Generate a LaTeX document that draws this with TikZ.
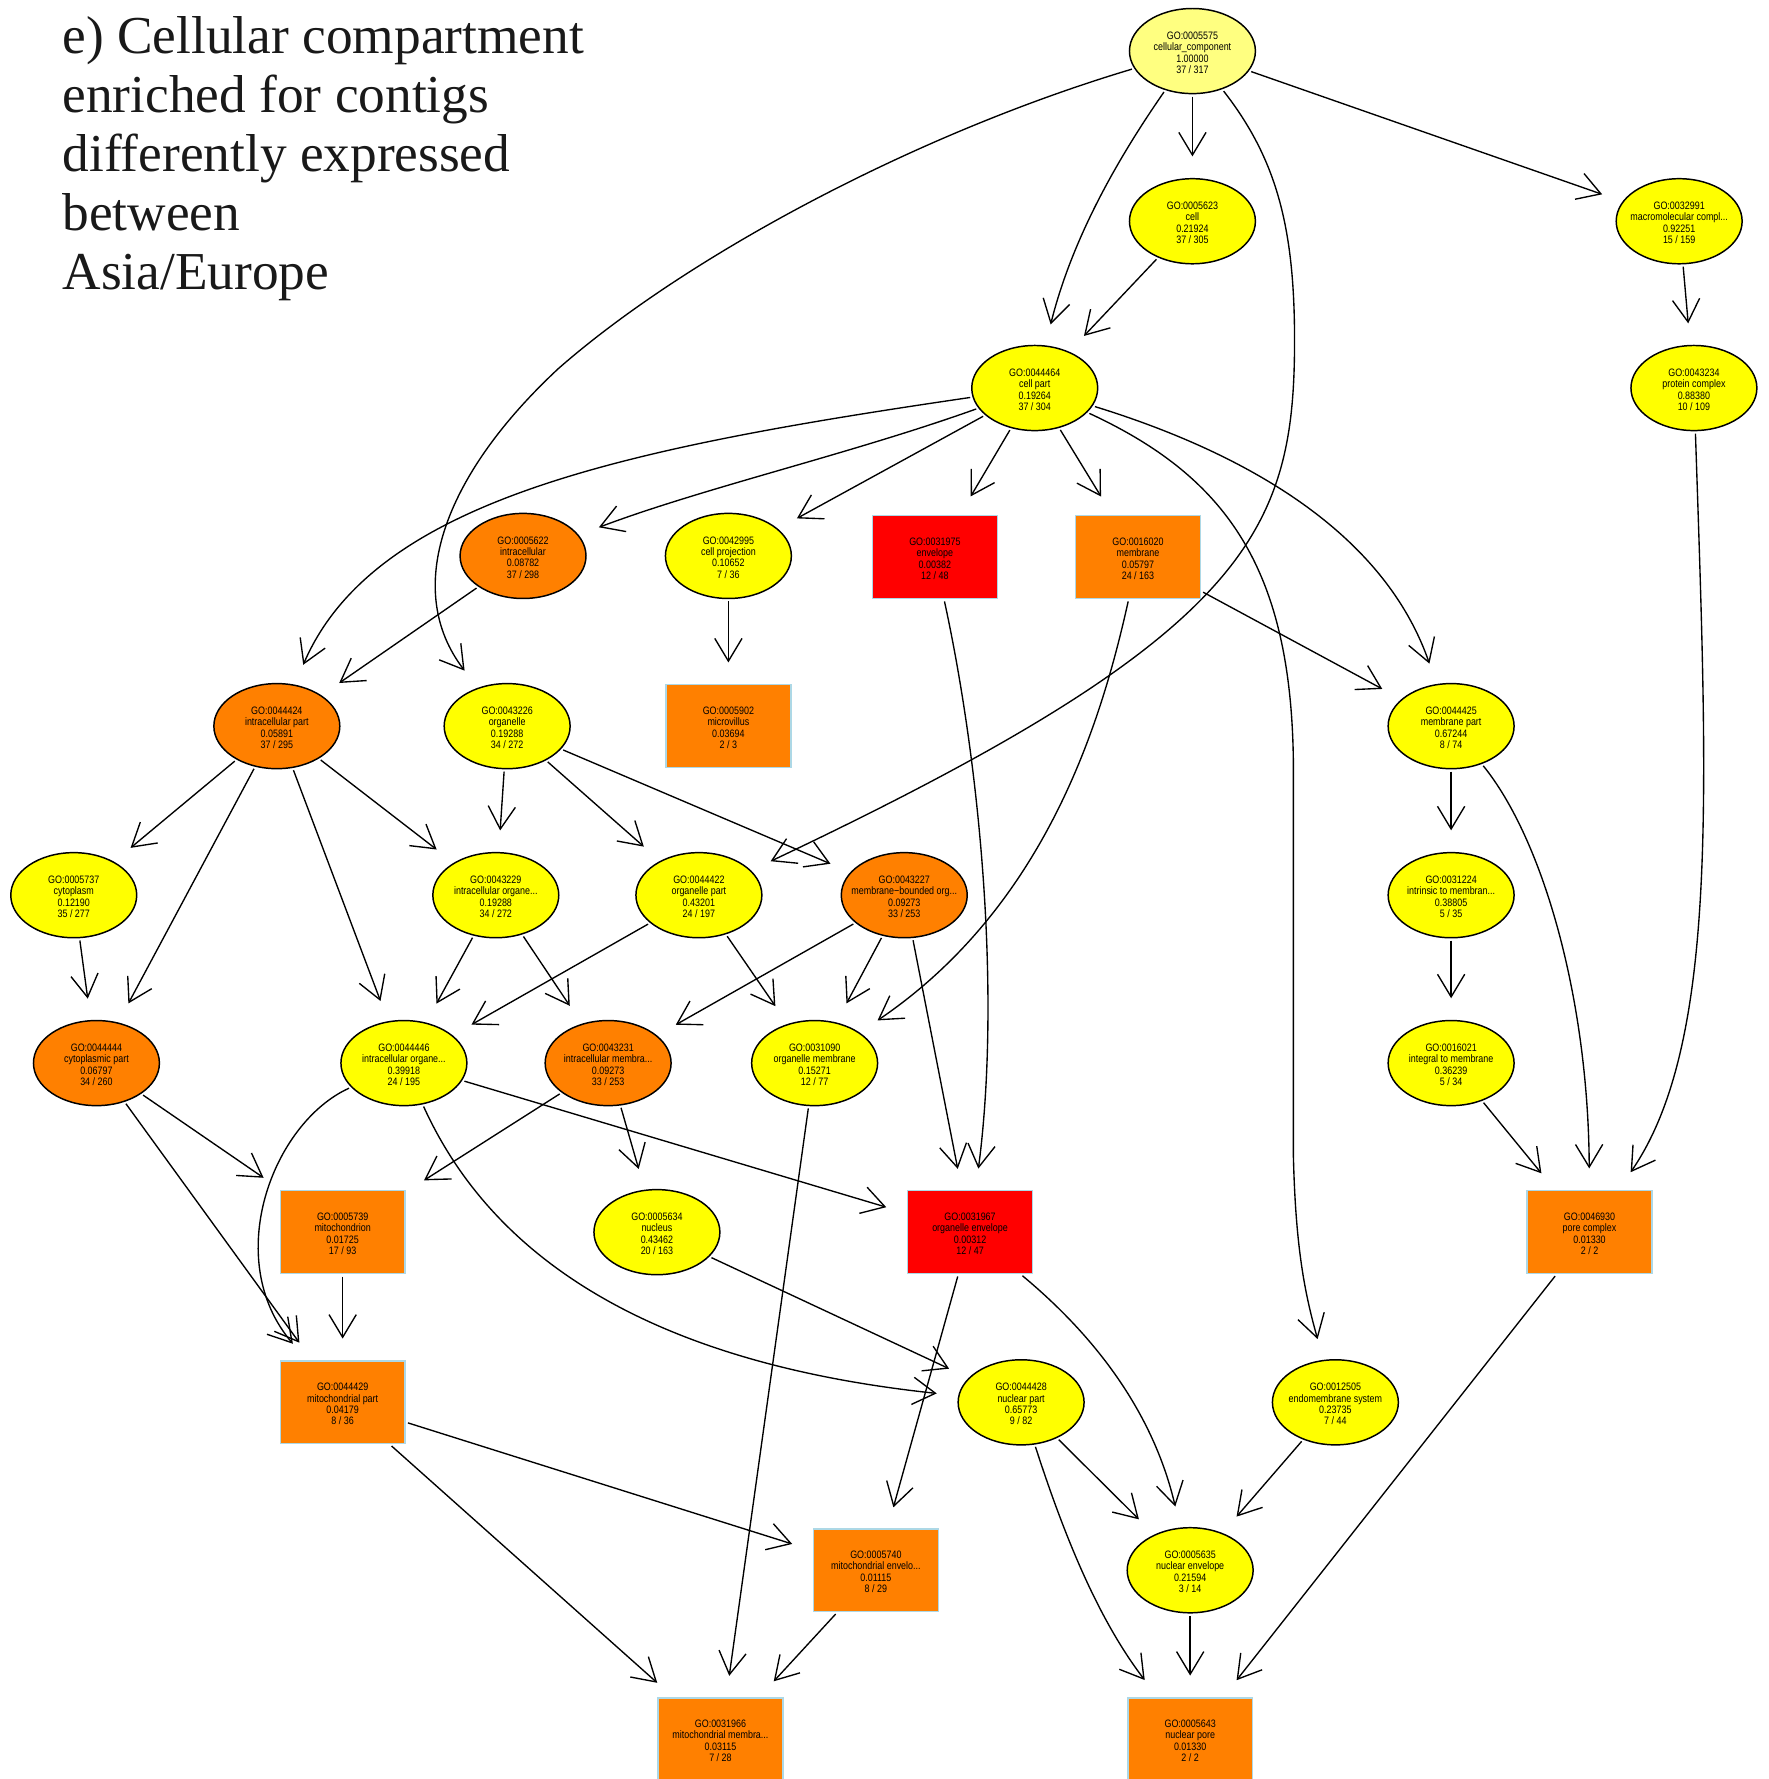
\documentclass[tikz,border=0pt]{standalone}
\usepackage{fontspec}
\usetikzlibrary{shapes.geometric,arrows.meta}
\newfontfamily\nodefnt[FakeStretch=0.83]{Liberation Sans}
\newfontfamily\titlefnt{Liberation Serif}
\definecolor{rootyel}{HTML}{FFFF80}
\definecolor{yel}{HTML}{FFFF00}
\definecolor{org}{HTML}{FF8000}
\definecolor{rd}{HTML}{FF0000}
\definecolor{boxblue}{HTML}{ADD8E6}
\tikzset{
  gobase/.style={inner sep=0pt, align=center, font=\nodefnt\fontsize{9.5}{10}\selectfont},
  goell/.style={gobase, ellipse, inner xsep=-20pt, inner ysep=-8pt, draw=black, line width=1.3pt, minimum width=111pt, minimum height=75pt},
  gobox/.style={gobase, rectangle, draw=boxblue, line width=1.3pt, minimum width=110pt, minimum height=73pt},
  edge/.style={line width=1.2pt, -{Straight Barb[length=20pt,width=24pt]}, shorten >=19pt, shorten <=2pt},
  titleline/.style={anchor=base west, inner sep=0pt, font=\titlefnt\fontsize{47}{52}\selectfont, text=black!90}
}
\newcommand{\golab}[4]{\rule{0pt}{9.5pt}#1\\#2\\#3\\#4}
\begin{document}
\begin{tikzpicture}[x=1pt,y=-1pt]
\useasboundingbox (0,0) rectangle (1559,1568);
\fill[white] (0,0) rectangle (1559,1568);

% title
\node[titleline] (t1) at (55,47) {e) Cellular compartment};
\node[titleline] (t2) at (55,99) {enriched for contigs};
\node[titleline] (t3) at (55,151) {differently expressed};
\node[titleline] (t4) at (55,203) {between};
\node[titleline] (t5) at (55,255) {Asia/Europe};

% nodes
\node[goell, fill=rootyel] (n1) at (1051,45) {\golab{GO:0005575}{cellular\_component}{1.00000}{37 / 317}};
\node[goell, fill=yel] (n2) at (1051,195) {\golab{GO:0005623}{cell}{0.21924}{37 / 305}};
\node[goell, fill=yel] (n3) at (1480,195) {\golab{GO:0032991}{macromolecular compl...}{0.92251}{15 / 159}};
\node[goell, fill=yel] (n4) at (912,342) {\golab{GO:0044464}{cell part}{0.19264}{37 / 304}};
\node[goell, fill=yel] (n5) at (1493,342) {\golab{GO:0043234}{protein complex}{0.88380}{10 / 109}};
\node[goell, fill=org] (n6) at (461,490) {\golab{GO:0005622}{intracellular}{0.08782}{37 / 298}};
\node[goell, fill=yel] (n7) at (642,490) {\golab{GO:0042995}{cell projection}{0.10652}{7 / 36}};
\node[gobox, fill=rd] (n8) at (824,491) {\golab{GO:0031975}{envelope}{0.00382}{12 / 48}};
\node[gobox, fill=org] (n9) at (1003,491) {\golab{GO:0016020}{membrane}{0.05797}{24 / 163}};
\node[gobox, fill=org] (n10) at (642,640) {\golab{GO:0005902}{microvillus}{0.03694}{2 / 3}};
\node[goell, fill=org] (n11) at (244,640) {\golab{GO:0044424}{intracellular part}{0.05891}{37 / 295}};
\node[goell, fill=yel] (n12) at (447,640) {\golab{GO:0043226}{organelle}{0.19288}{34 / 272}};
\node[goell, fill=yel] (n13) at (1279,640) {\golab{GO:0044425}{membrane part}{0.67244}{8 / 74}};
\node[goell, fill=yel] (n14) at (65,789) {\golab{GO:0005737}{cytoplasm}{0.12190}{35 / 277}};
\node[goell, fill=yel] (n15) at (437,789) {\golab{GO:0043229}{intracellular organe...}{0.19288}{34 / 272}};
\node[goell, fill=yel] (n16) at (616,789) {\golab{GO:0044422}{organelle part}{0.43201}{24 / 197}};
\node[goell, fill=org] (n17) at (797,789) {\golab{GO:0043227}{membrane−bounded org...}{0.09273}{33 / 253}};
\node[goell, fill=yel] (n18) at (1279,789) {\golab{GO:0031224}{intrinsic to membran...}{0.38805}{5 / 35}};
\node[goell, fill=org] (n19) at (85,937) {\golab{GO:0044444}{cytoplasmic part}{0.06797}{34 / 260}};
\node[goell, fill=yel] (n20) at (356,937) {\golab{GO:0044446}{intracellular organe...}{0.39918}{24 / 195}};
\node[goell, fill=org] (n21) at (536,937) {\golab{GO:0043231}{intracellular membra...}{0.09273}{33 / 253}};
\node[goell, fill=yel] (n22) at (718,937) {\golab{GO:0031090}{organelle membrane}{0.15271}{12 / 77}};
\node[goell, fill=yel] (n23) at (1279,937) {\golab{GO:0016021}{integral to membrane}{0.36239}{5 / 34}};
\node[gobox, fill=org] (n24) at (302,1086) {\golab{GO:0005739}{mitochondrion}{0.01725}{17 / 93}};
\node[goell, fill=yel] (n25) at (579,1086) {\golab{GO:0005634}{nucleus}{0.43462}{20 / 163}};
\node[gobox, fill=rd] (n26) at (855,1086) {\golab{GO:0031967}{organelle envelope}{0.00312}{12 / 47}};
\node[gobox, fill=org] (n27) at (1401,1086) {\golab{GO:0046930}{pore complex}{0.01330}{2 / 2}};
\node[gobox, fill=org] (n28) at (302,1236) {\golab{GO:0044429}{mitochondrial part}{0.04179}{8 / 36}};
\node[goell, fill=yel] (n29) at (900,1236) {\golab{GO:0044428}{nuclear part}{0.65773}{9 / 82}};
\node[goell, fill=yel] (n30) at (1177,1236) {\golab{GO:0012505}{endomembrane system}{0.23735}{7 / 44}};
\node[gobox, fill=org] (n31) at (772,1384) {\golab{GO:0005740}{mitochondrial envelo...}{0.01115}{8 / 29}};
\node[goell, fill=yel] (n32) at (1049,1384) {\golab{GO:0005635}{nuclear envelope}{0.21594}{3 / 14}};
\node[gobox, fill=org] (n33) at (635,1533) {\golab{GO:0031966}{mitochondrial membra...}{0.03115}{7 / 28}};
\node[gobox, fill=org] (n34) at (1049,1533) {\golab{GO:0005643}{nuclear pore}{0.01330}{2 / 2}};

% straight edges
\foreach \a/\b in {1/2,1/3,2/4,3/5,4/7,4/8,4/9,6/11,7/10,9/13,11/14,11/19,11/20,11/15,
  12/15,12/16,12/17,13/18,14/19,15/20,15/21,16/20,16/22,17/21,17/22,17/26,18/23,
  19/24,19/28,20/26,21/24,21/25,22/33,23/27,24/28,25/29,26/31,27/34,28/31,28/33,
  29/32,30/32,31/33,32/34}
  \draw[edge] (n\a) -- (n\b);

% curved edges
\draw[edge] (n1) .. controls (985,140) and (945,210) .. (n4);
\draw[edge] (n1) .. controls (800,120) and (600,230) .. (492,325)
                 .. controls (390,420) and (355,520) .. (n12);
\draw[edge] (n1) .. controls (1125,140) and (1141,200) .. (1141,300)
                 .. controls (1141,470) and (1100,560) .. (n16);
\draw[edge] (n4) .. controls (750,400) and (620,430) .. (n6);
\draw[edge] (n4) .. controls (550,395) and (330,440) .. (n11);
\draw[edge] (n4) .. controls (1100,400) and (1220,470) .. (n13);
\draw[edge] (n4) .. controls (1080,420) and (1140,500) .. (1140,680) -- (1140,1020)
                 .. controls (1142,1100) and (1150,1140) .. (n30);
\draw[edge] (n5) .. controls (1505,700) and (1515,920) .. (n27);
\draw[edge] (n8) .. controls (865,680) and (882,880) .. (n26);
\draw[edge] (n9) .. controls (970,640) and (920,800) .. (n22);
\draw[edge] (n13) .. controls (1360,740) and (1400,880) .. (n27);
\draw[edge] (n20) .. controls (240,990) and (195,1110) .. (n28);
\draw[edge] (n20) .. controls (430,1100) and (560,1200) .. (n29);
\draw[edge] (n26) .. controls (980,1190) and (1020,1260) .. (n32);
\draw[edge] (n29) .. controls (940,1360) and (970,1430) .. (n34);
\end{tikzpicture}
\end{document}
